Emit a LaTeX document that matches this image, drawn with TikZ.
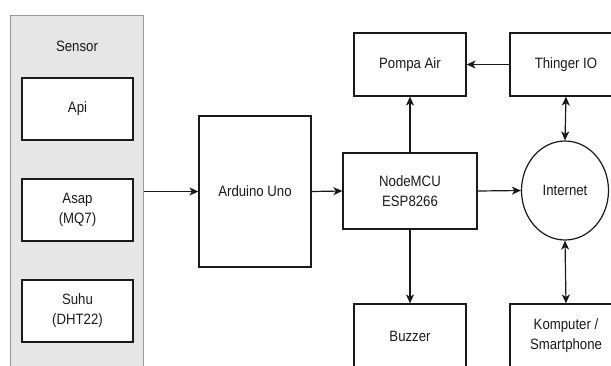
\documentclass[tikz,border=0pt]{standalone}
\usepackage{fontspec}
\setmainfont[FakeStretch=0.88]{Liberation Sans}
\usetikzlibrary{arrows.meta,shapes.geometric}
\definecolor{linec}{HTML}{1A1A1A}
\definecolor{sensfill}{HTML}{E6E6E6}
\definecolor{sensline}{HTML}{9A9A9A}
\tikzset{
  blk/.style={draw=linec, line width=1.2pt, fill=white, rectangle, inner sep=0pt,
    minimum width=112pt, minimum height=63pt, align=center,
    font=\fontsize{15}{20}\selectfont, text=linec},
  lbl/.style={inner sep=0pt, font=\fontsize{15}{20}\selectfont, text=linec},
  conn/.style={draw=linec, line width=1.2pt, -{Stealth[length=9pt,width=8pt,inset=2.5pt]}},
  dconn/.style={draw=linec, line width=1.2pt, {Stealth[length=9pt,width=8pt,inset=2.5pt]}-{Stealth[length=9pt,width=8pt,inset=2.5pt]}}
}
\begin{document}
\begin{tikzpicture}[x=1pt,y=-1pt]
\useasboundingbox (0,0) rectangle (611,365);
\clip (0,0) rectangle (611,365);
\fill[white] (0,0) rectangle (611,365);
% sensor group
\node[draw=sensline, fill=sensfill, line width=1pt, rectangle, inner sep=0pt,
  minimum width=133pt, minimum height=365pt] (sensor) at (76.5,197.5) {};
\node[lbl] (sensorlbl) at (77,46) {Sensor};
\node[blk, minimum width=111pt, minimum height=62pt] (api) at (77.5,109) {Api};
\node[blk, minimum width=111pt, minimum height=62pt] (asap) at (77.5,210) {Asap\\(MQ7)};
\node[blk, minimum width=111pt, minimum height=62pt] (suhu) at (77.5,311) {Suhu\\(DHT22)};
% main blocks
\node[blk, minimum height=151pt] (arduino) at (255,191.5) {Arduino Uno};
\node[blk, minimum width=134pt, minimum height=76pt] (mcu) at (410,191) {NodeMCU\\ESP8266};
\node[blk] (pompa) at (410,64.5) {Pompa Air};
\node[blk] (thinger) at (566,64.5) {Thinger IO};
\node[draw=linec, line width=1.2pt, ellipse, fill=white, inner sep=0pt,
  minimum width=87pt, minimum height=99pt, font=\fontsize{15}{20}\selectfont, text=linec] (internet) at (565,190.5) {Internet};
\node[blk, minimum height=64pt] (buzzer) at (410,336) {Buzzer};
\node[blk, minimum height=64pt] (komputer) at (566,336) {Komputer /\\Smartphone};
% connectors
\draw[conn] (sensor.east |- arduino.west) -- (arduino.west);
\draw[conn] (arduino.east) -- (mcu.west);
\draw[conn] (mcu.east) -- (internet.west);
\draw[conn] (mcu.north) -- (pompa.south);
\draw[conn] (mcu.south) -- (buzzer.north);
\draw[conn] (thinger.west) -- (pompa.east);
\draw[dconn] (thinger.south) -- (internet.north);
\draw[dconn] (internet.south) -- (komputer.north);
\end{tikzpicture}
\end{document}
